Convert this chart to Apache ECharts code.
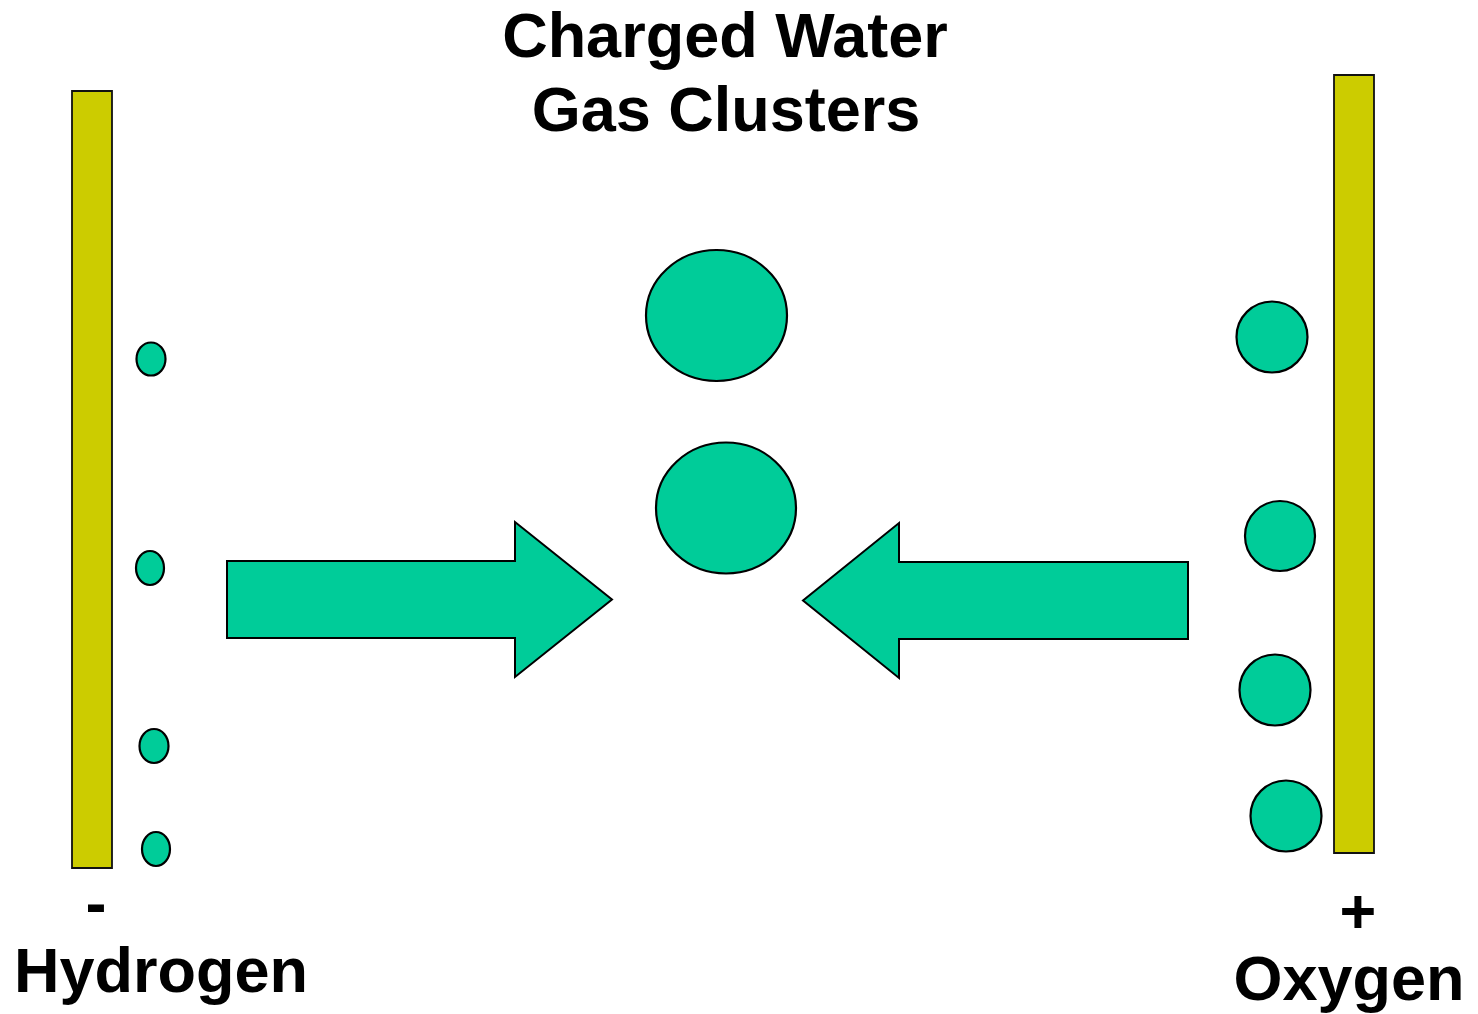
<!DOCTYPE html>
<html>
<head>
<meta charset="utf-8">
<style>
  html, body { margin: 0; padding: 0; background: #fff; }
  #main { width: 1478px; height: 1014px; }
</style>
<script src="https://cdn.jsdelivr.net/npm/echarts@6/dist/echarts.min.js"></script>
</head>
<body>
<div id="main"></div>
<script>
// diagram space is laid out in page pixels (y grows downward)
const plateLeft = [72, 1334];
const plateRight = [112, 1374];
const plateTop = [91, 75];
const plateBottom = [868, 853];

const hydrogenX = [151, 150, 154, 156];
const hydrogenY = [359, 568, 746, 849];
const hydrogenRx = [14.5, 14, 14.5, 14];
const hydrogenRy = [16.5, 17, 17, 17];

const oxygenX = [1272, 1280, 1275, 1286];
const oxygenY = [337, 536, 690, 816];
const oxygenR = [35.5, 35, 35.5, 35.5];

const clusterX = [716.5, 726];
const clusterY = [315.5, 508];
const clusterRx = [70.5, 70];
const clusterRy = [65.5, 65.5];

// arrows: tail x, neck x, tip x, axis y, shaft half height, head half height
const arrowTail = [227, 1188];
const arrowNeck = [515, 899];
const arrowTip = [612, 803];
const arrowMid = [599.5, 600.5];
const shaftHalf = [38.5, 38.5];
const headHalf = [77.5, 77.5];

const titleLines = ['Charged Water', 'Gas Clusters'];
const leftLabel = ['-', 'Hydrogen'];
const rightLabel = ['+', 'Oxygen'];

const GREEN = '#00CC99';
const OLIVE = '#CCCC00';
const FONT = '"Liberation Sans", Arial, sans-serif';

let chart = echarts.init(document.getElementById('main'));

function ellipseData(xs, ys, rxs, rys) {
  return xs.map((x, i) => [x, ys[i], rxs[i], rys[i]]);
}

function renderEllipse(params, api) {
  let c = api.coord([api.value(0), api.value(1)]);
  let s = api.size([api.value(2), api.value(3)]);
  return {
    type: 'ellipse',
    shape: { cx: c[0], cy: c[1], rx: s[0], ry: s[1] },
    style: { fill: GREEN, stroke: '#000', lineWidth: 2.2 }
  };
}

function renderPlate(params, api) {
  let p0 = api.coord([api.value(0), api.value(2)]);
  let p1 = api.coord([api.value(1), api.value(3)]);
  return {
    type: 'rect',
    shape: { x: p0[0], y: p0[1], width: p1[0] - p0[0], height: p1[1] - p0[1] },
    style: { fill: OLIVE, stroke: '#111', lineWidth: 1.8 }
  };
}

function renderArrow(params, api) {
  let tail = api.value(0), neck = api.value(1), tip = api.value(2);
  let mid = api.value(3), sh = api.value(4), hh = api.value(5);
  let pts = [
    [tail, mid - sh], [neck, mid - sh], [neck, mid - hh], [tip, mid],
    [neck, mid + hh], [neck, mid + sh], [tail, mid + sh]
  ].map(p => api.coord(p));
  return {
    type: 'polygon',
    shape: { points: pts },
    style: { fill: GREEN, stroke: '#000', lineWidth: 2 }
  };
}

function label(text, x, y, size) {
  return {
    type: 'text', x: x, y: y,
    style: {
      text: text, fill: '#000', font: 'bold ' + size + 'px ' + FONT,
      align: 'center', verticalAlign: 'middle'
    }
  };
}

let option = {
  animation: false,
  backgroundColor: '#fff',
  grid: { left: 0, right: 0, top: 0, bottom: 0 },
  xAxis: { type: 'value', min: 0, max: 1478, show: false },
  yAxis: { type: 'value', min: 0, max: 1014, inverse: true, show: false },
  graphic: [
    label(titleLines[0], 725, 40, 63),
    label(titleLines[1], 726, 114, 63),
    label(leftLabel[0], 96, 908, 63),
    label(leftLabel[1], 161, 975, 63),
    label(rightLabel[0], 1358, 916, 63),
    label(rightLabel[1], 1349, 983, 63)
  ],
  series: [
    {
      type: 'custom',
      renderItem: renderPlate,
      data: plateLeft.map((x, i) => [x, plateRight[i], plateTop[i], plateBottom[i]])
    },
    {
      type: 'custom',
      renderItem: renderArrow,
      data: arrowTail.map((t, i) => [t, arrowNeck[i], arrowTip[i], arrowMid[i], shaftHalf[i], headHalf[i]])
    },
    {
      type: 'custom',
      renderItem: renderEllipse,
      data: ellipseData(hydrogenX, hydrogenY, hydrogenRx, hydrogenRy)
    },
    {
      type: 'custom',
      renderItem: renderEllipse,
      data: ellipseData(oxygenX, oxygenY, oxygenR, oxygenR)
    },
    {
      type: 'custom',
      renderItem: renderEllipse,
      data: ellipseData(clusterX, clusterY, clusterRx, clusterRy)
    }
  ]
};

chart.setOption(option);
</script>
</body>
</html>
